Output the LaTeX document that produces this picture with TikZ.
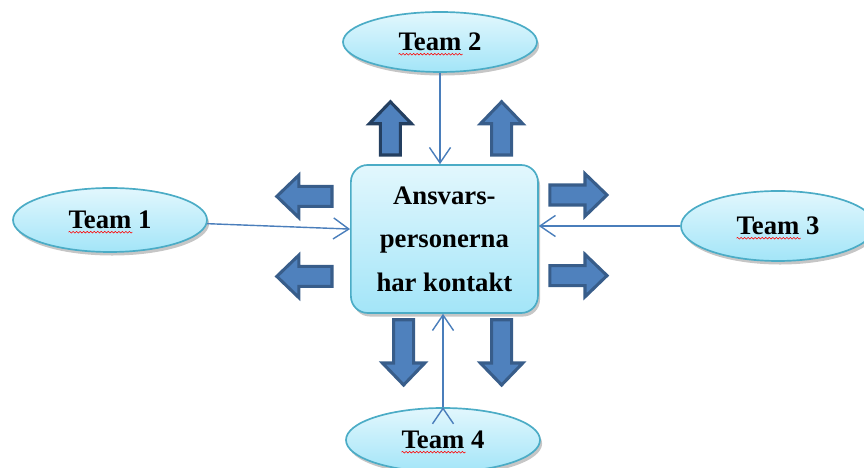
\documentclass[tikz,border=0pt]{standalone}
\usepackage{fontspec}
\setmainfont{Liberation Serif}
\usetikzlibrary{arrows.meta,shapes.geometric,shadows,decorations.pathmorphing}
\definecolor{rim}{HTML}{4BACC6}
\definecolor{palecyan}{HTML}{E2F7FD}
\definecolor{deepcyan}{HTML}{A3E5F8}
\definecolor{linkblue}{HTML}{4A7EBB}
\definecolor{arrowfill}{HTML}{4F81BD}
\definecolor{arrowrim}{HTML}{385D8A}
\definecolor{arrowdark}{HTML}{243F60}
\tikzset{
  bubble/.style={draw=rim, line width=1.2pt, top color=palecyan, bottom color=deepcyan,
    drop shadow={shadow xshift=1.5pt, shadow yshift=-2.5pt, opacity=0.45},
    font=\fontsize{19}{31}\selectfont\bfseries},
  team/.style={bubble, shape=ellipse, minimum width=4.85cm, minimum height=1.6cm, inner sep=0pt},
  hub/.style={bubble, rounded corners=0.42cm, minimum width=4.675cm, minimum height=3.7cm, align=center},
  link/.style={draw=linkblue, line width=1pt, -{Straight Barb[length=11pt, width=15pt, line width=1pt]}},
  blockarrow/.style={fill=arrowfill, line width=2.2pt, line join=miter},
  squiggle/.style={red, line width=0.4pt, decorate, decoration={snake, amplitude=0.6pt, segment length=2.5pt}}
}
\begin{document}
\begin{tikzpicture}
\useasboundingbox (0,0) rectangle (21.6,11.7);

\node(hub) at (11.11,5.725)[hub]                   {Ansvars-\\personerna\\har kontakt};
\node(team1) at (2.75,6.2)[team]                   {Team 1};
\node(team2) at (11.0,10.65)[team,minimum height=1.5cm]  {Team 2};
\node(team3) at (19.45,6.05)[team,minimum height=1.75cm] {Team 3};
\node(team4) at (11.075,0.7)[team]                 {Team 4};

\foreach \t in {team1,team2,team3,team4}
  \draw[squiggle] ([shift={(-29.5pt,-2.5pt)}]\t.base) -- ([shift={(16pt,-2.5pt)}]\t.base);

\foreach \x/\y/\a/\l/\c in {9.76/8.49/90/1.33/arrowdark, 12.54/8.49/90/1.33/arrowrim,
    10.09/2.89/-90/1.63/arrowrim, 12.54/2.89/-90/1.63/arrowrim,
    7.61/6.79/180/1.38/arrowrim, 7.61/4.79/180/1.38/arrowrim,
    14.46/6.825/0/1.43/arrowrim, 14.46/4.81/0/1.43/arrowrim}
  \draw[blockarrow, draw=\c, shift={(\x,\y)}, rotate=\a]
    ({-\l/2},-0.25) -- ({\l/2-0.55},-0.25) -- ({\l/2-0.55},-0.53) -- ({\l/2},0)
    -- ({\l/2-0.55},0.53) -- ({\l/2-0.55},0.25) -- ({-\l/2},0.25) -- cycle;

\path [link]
  (team1)       edge     (hub.174)
  (team2.south) edge     (team2.south |- hub.north)
  (team3.west)  edge     (team3.west -| hub.east)
  (team4.north) edge     (team4.north |- hub.south);

\end{tikzpicture}
\end{document}
